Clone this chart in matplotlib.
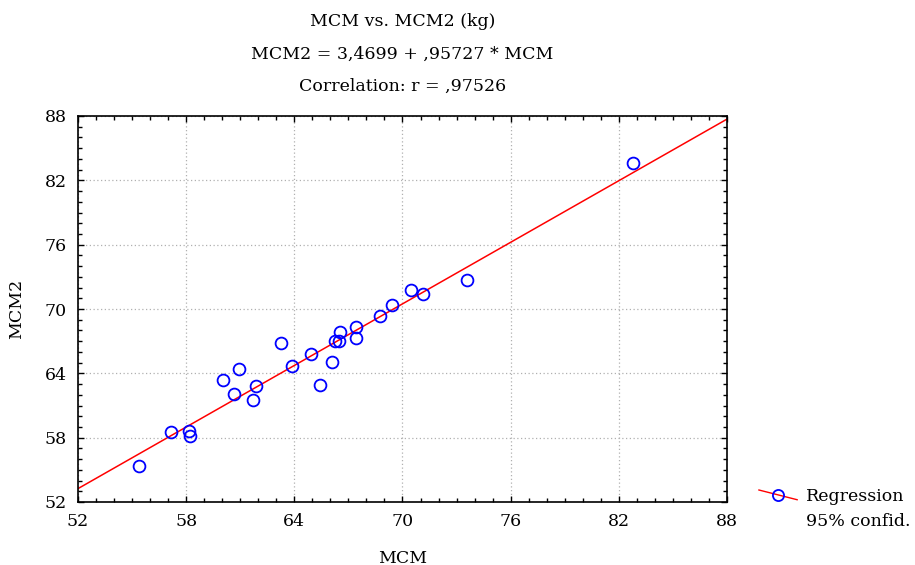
"""
Scatter plot of MCM against MCM2 with the fitted regression line.
"""

import matplotlib
matplotlib.use('Agg')
import matplotlib.pyplot as plt
from matplotlib.lines import Line2D
from matplotlib.legend_handler import HandlerBase
from matplotlib.ticker import MultipleLocator
import numpy as np

# Measured pairs (kg)
mcm = [55.38, 57.16, 58.17, 58.21, 60.02, 60.93, 60.65, 61.86, 61.71,
       63.24, 63.89, 64.94, 65.40, 66.09, 66.25, 66.49, 66.53, 67.44,
       67.44, 68.75, 69.43, 70.47, 71.13, 73.59, 82.76]
mcm2 = [55.38, 58.49, 58.64, 58.18, 63.40, 64.43, 62.07, 62.79, 61.51,
        66.80, 64.68, 65.80, 62.88, 65.08, 67.04, 66.98, 67.85, 68.35,
        67.29, 69.31, 70.34, 71.77, 71.40, 72.70, 83.64]

# Fitted model
intercept = 3.4699
slope = 0.95727
r_value = 0.97526

axis_ticks = [52, 58, 64, 70, 76, 82, 88]

FONT = ['DejaVu Serif']
LINE_RED = '#ff0000'
POINT_BLUE = '#0000ff'
TEXT_SIZE = 12.5


class SlopedLineHandler(HandlerBase):
    """Legend key: short falling red line with an open circle in the middle."""

    def create_artists(self, legend, orig_handle, xdescent, ydescent,
                       width, height, fontsize, trans):
        x0 = -xdescent
        y_mid = height / 2 - ydescent
        line = Line2D([x0, x0 + width], [y_mid + height * 0.4, y_mid - height * 0.4],
                      color=LINE_RED, lw=1)
        mark = Line2D([x0 + width * 0.5], [y_mid], marker='o', ms=8,
                      mfc='none', mec=POINT_BLUE, mew=1.3, ls='none')
        line.set_transform(trans)
        mark.set_transform(trans)
        return [line, mark]


plt.rcParams['font.family'] = FONT

fig = plt.figure(figsize=(9.15, 5.65), dpi=100, facecolor='white')
ax = fig.add_axes([78 / 915, 1 - 502 / 565, (727 - 78) / 915, (502 - 116) / 565])

# Regression line across the whole x range
xs = np.array([axis_ticks[0], axis_ticks[-1]])
ax.plot(xs, intercept + slope * xs, color=LINE_RED, lw=1.1, zorder=2)

# Observations
ax.plot(mcm, mcm2, linestyle='none', marker='o', ms=8.5, mfc='none',
        mec=POINT_BLUE, mew=1.3, zorder=3)

ax.set_xlim(axis_ticks[0], axis_ticks[-1])
ax.set_ylim(axis_ticks[0], axis_ticks[-1])
ax.set_xticks(axis_ticks)
ax.set_yticks(axis_ticks)
ax.xaxis.set_minor_locator(MultipleLocator(1))
ax.yaxis.set_minor_locator(MultipleLocator(1))
ax.tick_params(which='both', direction='in', top=True, right=True,
               labelsize=TEXT_SIZE, colors='black', width=1)
ax.tick_params(which='major', length=4, pad=8)
ax.tick_params(which='minor', length=3)
for spine in ax.spines.values():
    spine.set_linewidth(1.2)

ax.grid(True, which='major', linestyle=(0, (1, 2)), color='#b0b0b0', lw=0.9)
ax.set_axisbelow(True)

ax.set_xlabel('MCM', fontsize=TEXT_SIZE, labelpad=14)
ax.set_ylabel('MCM2', fontsize=TEXT_SIZE, labelpad=14)

# Title block, three lines
cx = (78 + 727) / 2 / 915
fig.text(cx, 1 - 22 / 565, 'MCM vs. MCM2 (kg)', ha='center', va='center',
         fontsize=TEXT_SIZE)
fig.text(cx, 1 - 54 / 565, 'MCM2 = 3,4699 + ,95727 * MCM',
         ha='center', va='center', fontsize=TEXT_SIZE)
fig.text(cx, 1 - 86 / 565, f'Correlation: r = ,{round(r_value * 1e5):05d}',
         ha='center', va='center', fontsize=TEXT_SIZE)

# Legend to the right of the plot
key = Line2D([], [])
blank = Line2D([], [], linestyle='none')
fig.legend([key, blank], ['Regression', '95% confid.'],
           handler_map={key: SlopedLineHandler()},
           loc='upper left', bbox_to_anchor=(752 / 915, 1 - 481 / 565),
           frameon=False, fontsize=TEXT_SIZE, handlelength=2.2, handletextpad=0.5,
           labelspacing=0.45, borderaxespad=0)

fig.savefig('out.png', dpi=100, facecolor='white')
plt.close(fig)
